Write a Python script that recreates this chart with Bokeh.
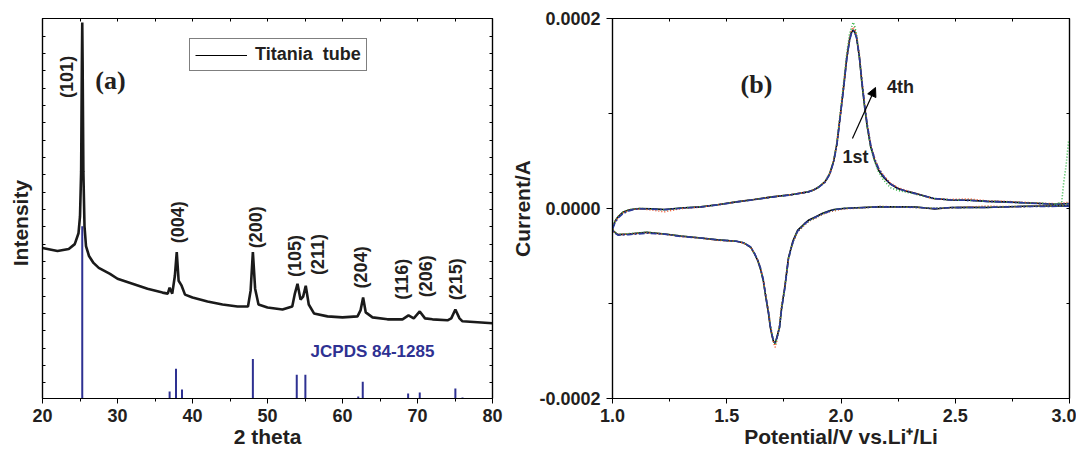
import math
import numpy as np
from bokeh.plotting import figure
from bokeh.models import (LinearAxis, FixedTicker, Range1d, Label, Arrow, NormalHead,
                          NumeralTickFormatter)
from bokeh.layouts import row
from bokeh.embed import file_html
from bokeh.resources import INLINE
from bokeh.core.properties import value

FONT = "Liberation Sans"
SERIF = "Liberation Serif"
TXT = "#231f20"
NAVY = "#2e3192"

# ---------------- (a) XRD data ----------------
two_theta = [20.0, 22.0, 23.5, 24.3, 24.8, 25.0, 25.15, 25.25, 25.3, 25.35, 25.45, 25.6, 25.8,
             26.2, 26.8, 27.5, 29.0, 30.0, 32.0, 34.0, 36.0, 36.7, 36.95, 37.3, 37.65, 37.9,
             38.15, 38.55, 39.0, 40.0, 42.0, 44.0, 46.0, 47.4, 47.75, 48.05, 48.35, 48.8,
             50.0, 52.0, 53.3, 53.65, 54.0, 54.4, 54.75, 55.1, 55.5, 56.2, 58.0, 60.0, 62.0,
             62.4, 62.75, 63.1, 64.0, 66.0, 68.0, 68.8, 69.5, 70.3, 71.0, 72.0, 74.0, 74.5,
             75.05, 75.6, 76.0, 78.0, 80.0]
intensity = [152, 149, 151, 156, 167, 184, 229, 339, 380, 339, 229, 174, 154,
             144, 137, 132, 126, 121, 116, 111, 107, 106, 112, 106, 124, 148,
             119, 114, 105, 102, 98, 95, 93, 93, 109, 148, 111, 95,
             92, 90, 93, 106, 116, 100, 103, 114, 95, 86, 83, 82, 83,
             89, 102, 87, 82, 80, 80, 84, 81, 88, 81, 80, 79, 81,
             90, 81, 78, 77, 76]

ref_pos = [25.3, 36.95, 37.8, 38.6, 48.05, 53.9, 55.05, 62.1, 62.7, 68.75, 70.3, 75.05, 76.0]
ref_height = [174, 7, 30, 9, 40, 24, 24, 2, 17, 5, 6, 10, 1]

peak_labels = ["(101)", "(004)", "(200)", "(105)", "(211)", "(204)", "(116)", "(206)", "(215)"]
peak_label_x = [23.33, 38.1, 48.4, 53.67, 56.73, 62.47, 67.93, 71.13, 75.13]
peak_label_y = [325, 178, 173, 144, 145.5, 132.5, 120.5, 123.5, 120.5]

xrd_x_ticks = [20, 30, 40, 50, 60, 70, 80]
xrd_x_minor = [25, 35, 45, 55, 65, 75]
xrd_y_ticks = [16 + 17.5 * k for k in range(21)]

# ---------------- (b) CV data (current in microampere) ----------------
cv_v_cath = [3.00, 2.90, 2.80, 2.70, 2.64, 2.56, 2.48, 2.41, 2.33, 2.25, 2.17, 2.09, 2.01,
             1.97, 1.95, 1.92, 1.89, 1.86, 1.84, 1.81, 1.79, 1.77, 1.754, 1.74, 1.731, 1.72,
             1.712, 1.705, 1.699, 1.69, 1.683, 1.67, 1.66, 1.648, 1.636, 1.62, 1.605, 1.573,
             1.542, 1.46, 1.385, 1.30, 1.228, 1.15, 1.071, 1.024, 1.005, 1.00]
cv_i_cath_1 = [2.8, 2.6, 2.4, 1.5, 1.0, 1.2, 1.0, -0.5, 1.5, 1.8, 1.7, 1.0, 0.0,
               -1.0, -2.4, -5.0, -8.7, -12.0, -16.0, -23.0, -34.0, -52.0, -83, -105, -125, -135,
               -142, -140, -135, -124, -111, -92, -76, -64, -55, -47, -41, -36,
               -34.5, -33, -31, -29, -26.8, -25, -26.8, -27.5, -24, -21]
cv_i_cath_2 = [3.5, 2.8, 2.0, 2.0, 2.6, 1.5, 0.6, 0.2, 1.0, 1.5, 2.2, 0.5, -0.3,
               -2.5, -3.5, -6.0, -10, -13.5, -17.5, -25, -35, -53, -82, -102, -122, -138,
               -146, -141, -134, -121, -108, -90, -75, -63, -54.5, -46.5, -41, -36.5,
               -34.5, -33.5, -31, -29.5, -27, -25.5, -27, -27.5, -24.5, -21]
cv_i_cath_3 = [3.0, 2.5, 2.2, 1.8, 1.4, 1.0, 0.8, 0.3, 1.2, 1.6, 2.0, 0.8, 0.2,
               -1.5, -3.0, -5.5, -9.5, -13, -17, -24, -35, -53, -83, -104, -124, -137,
               -143, -139, -133, -122, -109, -91, -76, -64, -55, -47, -41, -36,
               -34.5, -33, -31, -29, -26.8, -25, -26.5, -27.5, -24, -21]
cv_i_cath_4 = [2.5, 2.2, 2.0, 1.6, 1.2, 1.0, 0.9, 0.0, 1.2, 1.5, 1.8, 0.8, 0.0,
               -1.2, -2.8, -5.5, -9.0, -12.5, -16.5, -24, -35, -53, -84, -106, -125, -136,
               -141, -139, -134, -123, -110, -91, -75, -63, -54.5, -46.5, -40.5, -36,
               -34.5, -33, -31, -29.5, -27, -26, -27.5, -28, -25, -22]

cv_v_anod = [1.00, 1.01, 1.024, 1.045, 1.071, 1.09, 1.118, 1.17, 1.228, 1.30, 1.385, 1.46,
             1.542, 1.62, 1.699, 1.78, 1.856, 1.88, 1.903, 1.93, 1.951, 1.968, 1.982, 1.998,
             2.013, 2.025, 2.037, 2.045, 2.053, 2.06, 2.068, 2.08, 2.092, 2.104, 2.115, 2.13,
             2.147, 2.165, 2.186, 2.215, 2.249, 2.29, 2.328, 2.37, 2.406, 2.48, 2.563, 2.64,
             2.72, 2.80, 2.877, 2.94, 3.00]
cv_i_anod_1 = [-21, -14, -8.7, -4, -1.7, -0.8, 0, -0.3, -1.0, 0.5, 1.7, 4.0,
               7.0, 9.5, 12.2, 14.5, 17.5, 19.5, 22.7, 28, 36.7, 50, 68, 100,
               131, 158, 177, 185, 188, 186, 180, 160, 131, 106, 86, 65,
               51, 40, 33, 26, 21, 18, 15.7, 13, 10.5, 9, 8.7, 7.5,
               7.0, 6, 5.2, 4.5, 5.2]
cv_i_anod_2 = [-21, -14.5, -9, -4.5, -2.0, -1.0, -0.3, -1.5, -3.5, 0.0, 1.5, 4.0,
               7.0, 9.5, 12.2, 14.5, 17.5, 19.5, 22.7, 28.5, 37, 51, 69, 101,
               133, 160, 179, 187, 191, 189, 182, 163, 134, 108, 88, 67,
               53, 42, 35, 27, 22, 18.5, 15.5, 12.5, 10.0, 9.5, 10.0, 8.0,
               7.5, 6.5, 5.5, 5.0, 6.5]
cv_i_anod_3 = [-21, -14, -8.5, -4, -1.5, -0.5, 0, -0.5, -1.5, 0.5, 1.7, 4.0,
               7.0, 9.5, 12.2, 14.5, 17.5, 19.5, 22.7, 28.5, 37.5, 51, 70, 103,
               135, 163, 183, 190, 196, 192, 183, 161, 131, 105, 85, 64,
               50, 38, 30, 22, 19, 17, 15, 12.5, 10.5, 9, 8.5, 7.5,
               7.0, 6, 5.5, 4.5, 5.0]
cv_i_anod_4 = [-22, -15.5, -10, -5.5, -2.5, -1.2, -0.3, -0.6, -1.2, 0.3, 1.5, 3.8,
               6.8, 9.3, 12.0, 14.3, 17.3, 19.3, 22.5, 27.5, 36, 49, 67, 99,
               130, 157, 176, 184, 187, 185, 180, 161, 133, 108, 88, 67,
               52, 42, 34, 26, 21, 18, 15.5, 12.8, 10.5, 9, 8.5, 7.5,
               6.8, 6, 5.0, 4.5, 5.0]

cv_spike_v = [2.94, 2.966, 2.975, 2.985, 2.996]
cv_spike_i = [4.5, 7, 28, 45, 71]

cv_x_ticks = [1.0, 1.5, 2.0, 2.5, 3.0]
cv_x_minor = [1.25, 1.75, 2.25, 2.75]
cv_y_ticks = [-0.0002, 0.0, 0.0002]
cv_y_minor = [-0.0001, 0.0001]

cycle_colors = ["#000000", "#f04e23", "#39b54a", "#2b3a9a"]
cycle_dash = ["solid", "1 2", "1 2", "6 2 2 2"]


def style_frame(p):
    p.xgrid.visible = False
    p.ygrid.visible = False
    p.outline_line_color = "black"
    p.outline_line_width = 1.2
    p.background_fill_color = "white"
    p.border_fill_color = "white"


def text_axis(ax, ticker):
    ax.ticker = ticker
    ax.axis_line_color = "black"
    ax.axis_line_width = 1.2
    ax.major_tick_line_color = "black"
    ax.minor_tick_line_color = "black"
    ax.major_label_text_font = FONT
    ax.major_label_text_font_style = "bold"
    ax.major_label_text_font_size = "18px"
    ax.major_label_text_color = TXT
    ax.axis_label_text_font = FONT
    ax.axis_label_text_font_style = "bold"
    ax.axis_label_text_font_size = "21px"
    ax.axis_label_text_color = TXT


def mirror_axis(ticker, inward=3):
    return LinearAxis(ticker=ticker, major_tick_in=inward, major_tick_out=0,
                      minor_tick_in=0, minor_tick_out=0,
                      major_label_text_font_size="1px", major_label_text_color=None,
                      major_label_standoff=0,
                      axis_line_color="black", axis_line_width=1.2,
                      major_tick_line_color="black", minor_tick_line_color="black")


# ---------------- figure (a) ----------------
p1 = figure(width=504, height=455, x_range=Range1d(20, 80), y_range=Range1d(0, 384),
            output_backend="svg", toolbar_location=None,
            min_border_left=42, min_border_right=12, min_border_top=15, min_border_bottom=56)
style_frame(p1)

xt1 = FixedTicker(ticks=xrd_x_ticks, minor_ticks=xrd_x_minor)
yt1 = FixedTicker(ticks=xrd_y_ticks, minor_ticks=[])
xa = p1.xaxis[0]
text_axis(xa, xt1)
xa.axis_label = "2 theta"
xa.major_tick_in = 0
xa.major_tick_out = 5
xa.minor_tick_in = 0
xa.minor_tick_out = 3
xa.major_label_standoff = 5
xa.axis_label_standoff = 0

ya = p1.yaxis[0]
text_axis(ya, yt1)
ya.major_tick_in = 3
ya.major_tick_out = 0
ya.minor_tick_in = 0
ya.minor_tick_out = 0
ya.major_label_text_font_size = "1px"
ya.major_label_text_color = None
ya.major_label_standoff = 0
ya.axis_label = "Intensity" + "\u00a0" * 5
ya.axis_label_standoff = 11

p1.add_layout(mirror_axis(FixedTicker(ticks=xrd_x_ticks + xrd_x_minor, minor_ticks=[])), "above")
p1.add_layout(mirror_axis(FixedTicker(ticks=xrd_y_ticks, minor_ticks=[])), "right")

p1.segment(x0=ref_pos, y0=[0] * len(ref_pos), x1=ref_pos, y1=ref_height,
           line_color=NAVY, line_width=2)
p1.line(two_theta, intensity, line_color="#1a1a1a", line_width=2.6)
p1.line([two_theta[0]], [intensity[0]], line_color="black", line_width=1,
        legend_label="Titania  tube")

p1.text(x=peak_label_x, y=peak_label_y, text=peak_labels, angle=math.pi / 2,
        text_align="center", text_baseline="middle", text_font=value(FONT),
        text_font_style="bold", text_font_size="18px", text_color=TXT)

p1.add_layout(Label(x=29.07, y=321, text="(a)", text_font=SERIF, text_font_style="bold",
                    text_font_size="26px", text_color=TXT, text_align="center",
                    text_baseline="middle"))
p1.add_layout(Label(x=64.0, y=48, text="JCPDS 84-1285", text_font=FONT,
                    text_font_style="bold", text_font_size="17px", text_color=NAVY,
                    text_align="center", text_baseline="middle"))

leg = p1.legend[0]
leg.location = (147, 327)
leg.border_line_color = "black"
leg.border_line_width = 1
leg.background_fill_alpha = 1
leg.label_text_font = FONT
leg.label_text_font_style = "bold"
leg.label_text_font_size = "18px"
leg.label_text_color = TXT
leg.glyph_width = 52
leg.glyph_height = 18
leg.padding = 5
leg.margin = 0
leg.spacing = 0
leg.label_standoff = 8

# ---------------- figure (b) ----------------
p2 = figure(width=572, height=455, x_range=Range1d(1.0, 3.0), y_range=Range1d(-0.0002, 0.0002),
            output_backend="svg", toolbar_location=None,
            min_border_left=108, min_border_right=7, min_border_top=18, min_border_bottom=57)
style_frame(p2)

xt2 = FixedTicker(ticks=cv_x_ticks, minor_ticks=cv_x_minor)
yt2 = FixedTicker(ticks=cv_y_ticks, minor_ticks=cv_y_minor)
xb = p2.xaxis[0]
text_axis(xb, xt2)
xb.formatter = NumeralTickFormatter(format="0.0")
xb.axis_label = "Potential/V vs.Li\u207a/Li"
xb.major_tick_in = 0
xb.major_tick_out = 5
xb.minor_tick_in = 0
xb.minor_tick_out = 3
xb.major_label_standoff = 5
xb.axis_label_standoff = 0

yl = p2.yaxis[0]
text_axis(yl, yt2)
yl.formatter = NumeralTickFormatter(format="0.0000")
yl.axis_label = "Current/A"
yl.major_tick_in = 0
yl.major_tick_out = 6
yl.minor_tick_in = 0
yl.minor_tick_out = 4
yl.major_label_standoff = 6
yl.axis_label_standoff = 2

p2.add_layout(mirror_axis(FixedTicker(ticks=cv_x_ticks + cv_x_minor, minor_ticks=[])), "above")
p2.add_layout(mirror_axis(FixedTicker(ticks=cv_y_ticks + cv_y_minor, minor_ticks=[])), "right")

cath = [cv_i_cath_1, cv_i_cath_2, cv_i_cath_3, cv_i_cath_4]
anod = [cv_i_anod_1, cv_i_anod_2, cv_i_anod_3, cv_i_anod_4]
for k in range(4):
    vv = np.array(cv_v_cath + cv_v_anod)
    ii = np.array(cath[k] + anod[k]) * 1e-6
    p2.line(vv, ii, line_color=cycle_colors[k], line_width=1.6, line_dash=cycle_dash[k])
p2.line(cv_spike_v, np.array(cv_spike_i) * 1e-6, line_color=cycle_colors[2], line_width=1.6,
        line_dash="1 2")

p2.add_layout(Label(x=1.63, y=1.305e-4, text="(b)", text_font=SERIF, text_font_style="bold",
                    text_font_size="26px", text_color=TXT, text_align="center",
                    text_baseline="middle"))
p2.add_layout(Label(x=2.26, y=1.274e-4, text="4th", text_font=FONT, text_font_style="bold",
                    text_font_size="18px", text_color=TXT, text_align="center",
                    text_baseline="middle"))
p2.add_layout(Label(x=2.063, y=5.37e-5, text="1st", text_font=FONT, text_font_style="bold",
                    text_font_size="18px", text_color=TXT, text_align="center",
                    text_baseline="middle"))
p2.add_layout(Arrow(end=NormalHead(size=9, fill_color="black", line_color="black"),
                    x_start=2.05, y_start=7.37e-5, x_end=2.151, y_end=1.274e-4,
                    line_color="black", line_width=1.2))

layout = row(p1, p2)
open("out.html", "w").write(file_html(layout, INLINE))
